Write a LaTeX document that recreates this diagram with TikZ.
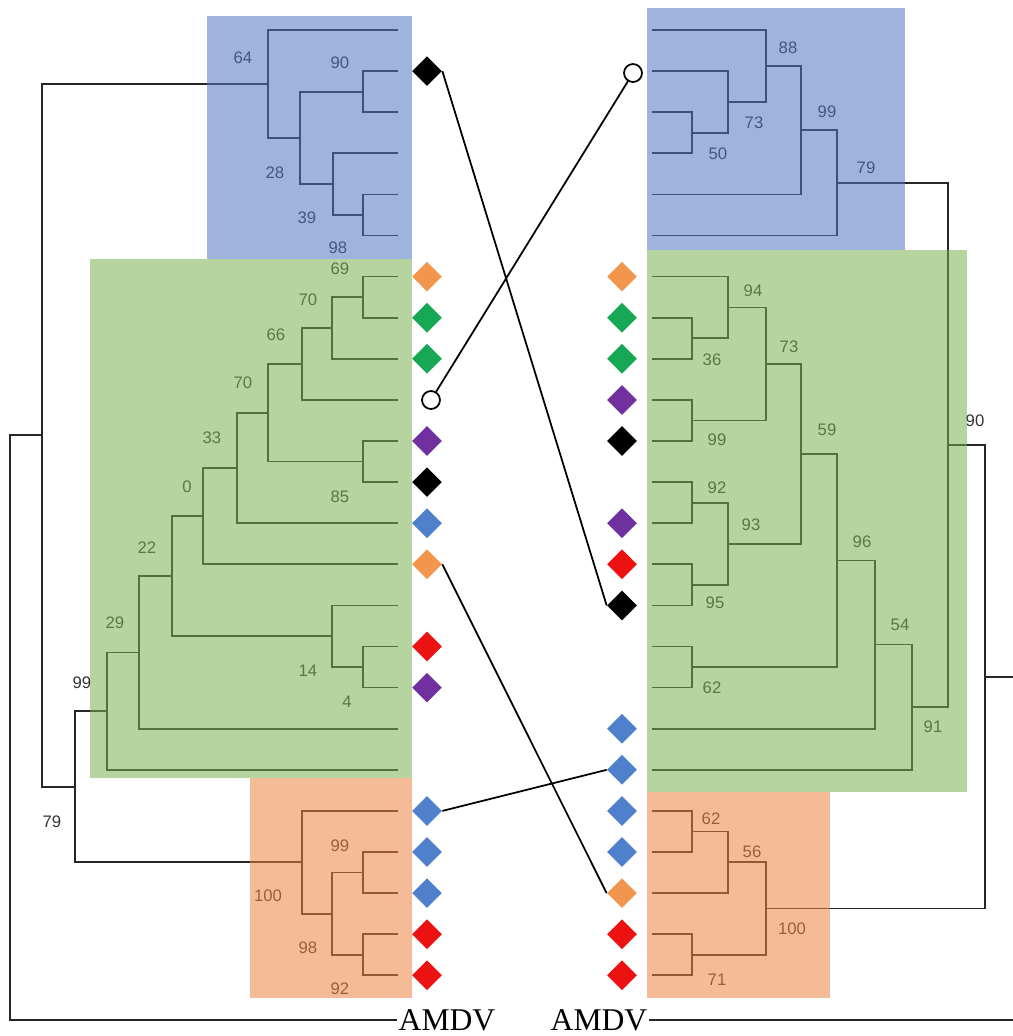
\documentclass[tikz,border=0pt]{standalone}
\usepackage{fontspec}
\setmainfont{Liberation Serif}
\setsansfont{Liberation Sans}
\usetikzlibrary{shapes.geometric}
\definecolor{boxblue}{RGB}{80,118,193}
\definecolor{boxgreen}{RGB}{120,176,82}
\definecolor{boxorange}{RGB}{235,131,64}
\definecolor{dorange}{RGB}{242,150,78}
\definecolor{dgreen}{RGB}{22,168,84}
\definecolor{dpurple}{RGB}{112,48,160}
\definecolor{dblue}{RGB}{78,128,204}
\definecolor{dred}{RGB}{236,18,18}
\begin{document}
\begin{tikzpicture}[x=0.02cm,y=-0.02cm,
  branch/.style={line width=1pt,black!85},
  boot/.style={font=\sffamily\fontsize{9.5}{10}\selectfont,text=black!80,inner sep=0pt},
  clade/.style={fill opacity=0.55},
  tipmark/.style={diamond,inner sep=0pt,minimum size=0.6cm},
  lost/.style={circle,draw,fill=white,line width=1pt,inner sep=0pt,minimum size=0.36cm},
  link/.style={line width=1pt,black},
  virus/.style={font=\fontsize{18}{20}\selectfont,inner sep=1pt}]
  \useasboundingbox (0,0) rectangle (1013,1036);
  \foreach \i in {0,...,23} {
    \coordinate (L\i) at (398,30+41.1*\i);
    \coordinate (R\i) at (652,30+41.1*\i);
  }
  \coordinate (l90) at (363,91.65);
  \coordinate (l98) at (363,214.95);
  \coordinate (l39) at (333,184.1);
  \coordinate (l28) at (300,137.9);
  \coordinate (l64) at (268,83.95);
  \coordinate (l69) at (363,297.15);
  \coordinate (l70a) at (332,327.98);
  \coordinate (l66) at (302,363.94);
  \coordinate (l85) at (363,461.55);
  \coordinate (l70b) at (268,412.75);
  \coordinate (l33) at (237,467.98);
  \coordinate (l0) at (203,516.14);
  \coordinate (l4) at (363,667.05);
  \coordinate (l14) at (332,636.2);
  \coordinate (l22) at (172,576.17);
  \coordinate (l29) at (139,652.44);
  \coordinate (l99) at (107,711.12);
  \coordinate (l99o) at (363,872.55);
  \coordinate (l92) at (363,954.75);
  \coordinate (l98o) at (332,913.65);
  \coordinate (l100) at (302,862.3);
  \coordinate (l79) at (75,786.7);
  \coordinate (lb) at (42,435.3);
  \coordinate (lr) at (10,726);
  \node[virus] (lamdv) at (447,1020) {AMDV};
  \draw[branch]
  (L1) -| (l90) |- (L2)
  (L4) -| (l98) |- (L5)
  (L3) -| (l39) |- (l98)
  (l90) -| (l28) |- (l39)
  (L0) -| (l64) |- (l28)
  (L6) -| (l69) |- (L7)
  (l69) -| (l70a) |- (L8)
  (l70a) -| (l66) |- (L9)
  (L10) -| (l85) |- (L11)
  (l66) -| (l70b) |- (l85)
  (l70b) -| (l33) |- (L12)
  (l33) -| (l0) |- (L13)
  (L15) -| (l4) |- (L16)
  (L14) -| (l14) |- (l4)
  (l0) -| (l22) |- (l14)
  (l22) -| (l29) |- (L17)
  (l29) -| (l99) |- (L18)
  (L20) -| (l99o) |- (L21)
  (L22) -| (l92) |- (L23)
  (l99o) -| (l98o) |- (l92)
  (L19) -| (l100) |- (l98o)
  (l99) -| (l79) |- (l100)
  (l64) -| (lb) |- (l79)
  (lb) -| (lr) |- (lamdv.west);
  \coordinate (r50) at (692,132.75);
  \coordinate (r73) at (728,101.9);
  \coordinate (r88) at (766,65.95);
  \coordinate (r99) at (801,130.2);
  \coordinate (r79) at (837,182.85);
  \coordinate (r36) at (692,338.25);
  \coordinate (r94) at (728,307.4);
  \coordinate (r99g) at (692,420.45);
  \coordinate (r73g) at (766,363.9);
  \coordinate (r92) at (692,502.65);
  \coordinate (r95) at (692,584.85);
  \coordinate (r93) at (728,543.75);
  \coordinate (r59) at (801,453.8);
  \coordinate (r62g) at (692,667.05);
  \coordinate (r96) at (837,560.4);
  \coordinate (r54) at (875,644.55);
  \coordinate (r91) at (912,707.2);
  \coordinate (r90) at (948,445);
  \coordinate (r62o) at (692,831.45);
  \coordinate (r56) at (728,862.3);
  \coordinate (r71) at (692,954.75);
  \coordinate (r100) at (766,908.5);
  \coordinate (rr) at (985,676.75);
  \coordinate (rtop) at (1013,676.75);
  \coordinate (rout) at (1013,1020);
  \node[virus] (ramdv) at (599,1020) {AMDV};
  \draw[branch]
  (R2) -| (r50) |- (R3)
  (R1) -| (r73) |- (r50)
  (R0) -| (r88) |- (r73)
  (r88) -| (r99) |- (R4)
  (r99) -| (r79) |- (R5)
  (R7) -| (r36) |- (R8)
  (R6) -| (r94) |- (r36)
  (R9) -| (r99g) |- (R10)
  (r94) -| (r73g) |- (r99g)
  (R11) -| (r92) |- (R12)
  (R13) -| (r95) |- (R14)
  (r92) -| (r93) |- (r95)
  (r73g) -| (r59) |- (r93)
  (R15) -| (r62g) |- (R16)
  (r59) -| (r96) |- (r62g)
  (r96) -| (r54) |- (R17)
  (r54) -| (r91) |- (R18)
  (r79) -| (r90) |- (r91)
  (R19) -| (r62o) |- (R20)
  (r62o) -| (r56) |- (R21)
  (R22) -| (r71) |- (R23)
  (r56) -| (r100) |- (r71)
  (r90) -| (rr) |- (r100)
  (rr) -- (rtop)
  (ramdv.east) -- (rout);
  \node[boot] (b64) at (243,58) {64};
  \node[boot] (b90) at (340,63) {90};
  \node[boot] (b28) at (275,173) {28};
  \node[boot] (b39) at (307,218) {39};
  \node[boot] (b98) at (338,248) {98};
  \node[boot] (b69) at (340,269) {69};
  \node[boot] (b70a) at (308,300) {70};
  \node[boot] (b66) at (276,335) {66};
  \node[boot] (b70b) at (243,383) {70};
  \node[boot] (b33) at (212,438) {33};
  \node[boot] (b0) at (187,487) {0};
  \node[boot] (b85) at (340,497) {85};
  \node[boot] (b22) at (147,548) {22};
  \node[boot] (b29) at (115,623) {29};
  \node[boot] (b14) at (308,671) {14};
  \node[boot] (b4) at (347,702) {4};
  \node[boot] (b99) at (82,683) {99};
  \node[boot] (b79) at (52,822) {79};
  \node[boot] (b99o) at (340,846) {99};
  \node[boot] (b100) at (268,896) {100};
  \node[boot] (b98o) at (308,948) {98};
  \node[boot] (b92) at (340,989) {92};
  \node[boot] (c88) at (788,48) {88};
  \node[boot] (c73) at (754,123) {73};
  \node[boot] (c99) at (827,112) {99};
  \node[boot] (c50) at (718,154) {50};
  \node[boot] (c79) at (866,168) {79};
  \node[boot] (c94) at (753,291) {94};
  \node[boot] (c73g) at (789,347) {73};
  \node[boot] (c36) at (712,360) {36};
  \node[boot] (c90) at (975,421) {90};
  \node[boot] (c59) at (827,430) {59};
  \node[boot] (c99g) at (717,440) {99};
  \node[boot] (c92) at (717,488) {92};
  \node[boot] (c93) at (751,525) {93};
  \node[boot] (c96) at (862,542) {96};
  \node[boot] (c95) at (715,603) {95};
  \node[boot] (c54) at (900,625) {54};
  \node[boot] (c62) at (712,688) {62};
  \node[boot] (c91) at (933,727) {91};
  \node[boot] (c62o) at (711,819) {62};
  \node[boot] (c56) at (752,852) {56};
  \node[boot] (c100) at (792,929) {100};
  \node[boot] (c71) at (717,980) {71};
  \fill[boxblue,clade] (207,16) rectangle (412,259);
  \fill[boxgreen,clade] (90,259) rectangle (412,778);
  \fill[boxorange,clade] (250,778) rectangle (412,998);
  \fill[boxblue,clade] (647,8) rectangle (905,250);
  \fill[boxgreen,clade] (647,250) rectangle (967,792);
  \fill[boxorange,clade] (647,792) rectangle (830,998);
  \foreach \i/\c in {1/black,6/dorange,7/dgreen,8/dgreen,10/dpurple,11/black,
    12/dblue,13/dorange,15/dred,16/dpurple,19/dblue,20/dblue,21/dblue,22/dred,23/dred}
    \node[tipmark,fill=\c] (ld\i) at (427,30+41.1*\i) {};
  \foreach \i/\c in {6/dorange,7/dgreen,8/dgreen,9/dpurple,10/black,12/dpurple,
    13/dred,14/black,17/dblue,18/dblue,19/dblue,20/dblue,21/dorange,22/dred,23/dred}
    \node[tipmark,fill=\c] (rd\i) at (622,30+41.1*\i) {};
  \node[lost] (lc9) at (431,400) {};
  \node[lost] (rc1) at (633,73) {};
  \draw[link]
  (ld1.east) -- (rd14.west)
  (lc9) -- (rc1)
  (ld13.east) -- (rd21.west)
  (ld19.east) -- (rd18.west);
\end{tikzpicture}
\end{document}
